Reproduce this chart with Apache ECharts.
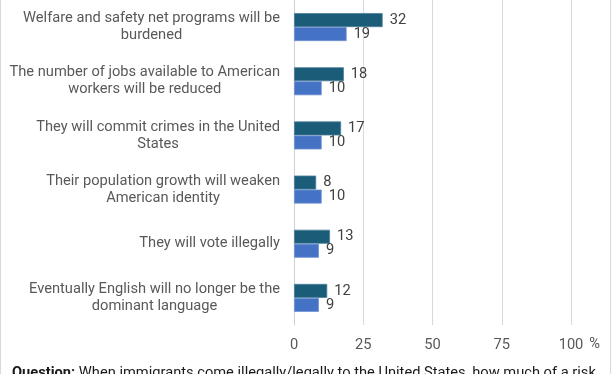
<!DOCTYPE html>
<html>
<head>
<meta charset="utf-8">
<script src="https://cdn.jsdelivr.net/npm/echarts@6/dist/echarts.min.js"></script>
<style>
html,body{margin:0;padding:0;background:#fff;}
#chart{width:612px;height:374px;}
</style>
</head>
<body>
<div id="chart"></div>
<script>
var categories = [
  "Welfare and safety net programs will be\nburdened",
  "The number of jobs available to American\nworkers will be reduced",
  "They will commit crimes in the United\nStates",
  "Their population growth will weaken\nAmerican identity",
  "They will vote illegally",
  "Eventually English will no longer be the\ndominant language"
];
var illegalValues = [32, 18, 17, 8, 13, 12];
var legalValues = [19, 10, 10, 10, 9, 9];
var xTicks = [0, 25, 50, 75, 100];
var questionText = "When immigrants come illegally/legally to the United States, how much of a risk";

var FONT = 'Roboto';
var chart = echarts.init(document.getElementById('chart'), null, {renderer: 'canvas'});
var option = {
  animation: false,
  backgroundColor: '#ffffff',
  grid: {left: 294, right: 41, top: -1, bottom: 49, containLabel: false},
  xAxis: {
    type: 'value',
    min: xTicks[0],
    max: xTicks[xTicks.length - 1],
    interval: xTicks[1] - xTicks[0],
    axisLine: {show: false},
    axisTick: {show: false},
    splitLine: {show: true, lineStyle: {color: '#d9d9d9', width: 1}},
    axisLabel: {color: '#595959', fontFamily: FONT, fontSize: 14.67, margin: 13},
    name: '%',
    nameLocation: 'end',
    nameGap: 17,
    nameTextStyle: {color: '#595959', fontFamily: FONT, fontSize: 14.67, verticalAlign: 'top', padding: [12, 0, 0, 0]}
  },
  yAxis: {
    type: 'category',
    inverse: true,
    data: categories,
    axisLine: {show: true, lineStyle: {color: '#d0d0d0', width: 1}},
    axisTick: {show: false},
    axisLabel: {
      color: '#595959', fontFamily: FONT, fontSize: 14.67, margin: 14, align: 'right',
      lineHeight: 17,
      formatter: function (v) {
        return v.split('\n').map(function (l) { return '{c|' + l + '}'; }).join('\n');
      },
      rich: {c: {align: 'center', color: '#595959', fontFamily: FONT, fontSize: 14.67, lineHeight: 17}}
    }
  },
  series: [
    {
      name: 'Illegally',
      type: 'bar',
      data: illegalValues,
      barWidth: 14,
      barGap: '0%',
      itemStyle: {color: '#1b5c79', borderColor: '#4a8099', borderWidth: 0.8},
      label: {show: true, position: 'right', distance: 7, color: '#404040', fontFamily: FONT, fontSize: 14.67}
    },
    {
      name: 'Legally',
      type: 'bar',
      data: legalValues,
      barWidth: 14,
      barGap: '0%',
      itemStyle: {color: '#4472c4', borderColor: '#7393d3', borderWidth: 0.8},
      label: {show: true, position: 'right', distance: 7, color: '#404040', fontFamily: FONT, fontSize: 14.67}
    }
  ],
  graphic: [
    {
      type: 'rect', silent: true, z: 100,
      shape: {x: 0.5, y: -10, width: 610, height: 400},
      style: {fill: 'none', stroke: '#d9d9d9', lineWidth: 1}
    },
    {
      type: 'text', left: 12, top: 366, z: 100,
      style: {
        text: '{b|Question:} ' + questionText,
        fontFamily: FONT, fontSize: 14.67, fill: '#1a1a1a',
        rich: {b: {fontWeight: 'bold', fontFamily: FONT, fontSize: 14.67, fill: '#1a1a1a'}}
      }
    }
  ]
};
chart.setOption(option);
</script>
</body>
</html>
